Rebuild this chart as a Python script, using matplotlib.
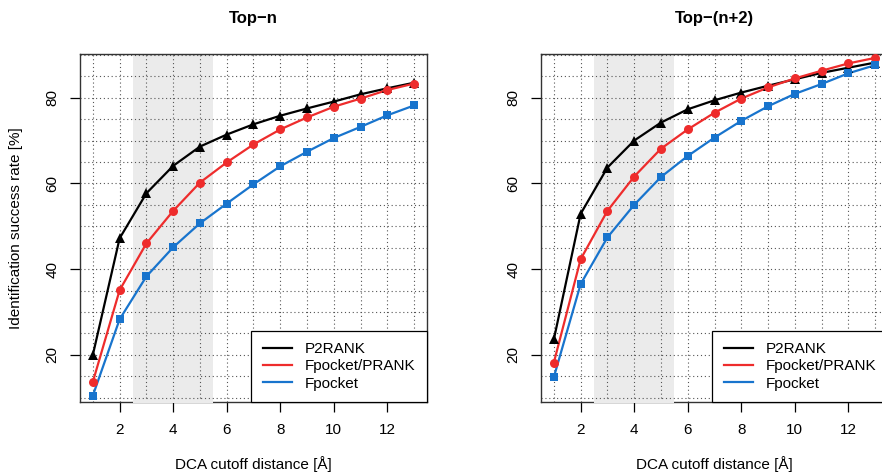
import matplotlib
matplotlib.use("Agg")
import matplotlib.pyplot as plt

plt.rcParams["font.family"] = ["Liberation Sans", "DejaVu Sans"]

cutoff = list(range(1, 14))

# Top-n panel
topn_p2rank = [20.0, 47.2, 57.7, 64.1, 68.6, 71.4, 73.8, 75.8, 77.5, 79.1, 80.8, 82.2, 83.5]
topn_fpprank = [13.7, 35.1, 46.0, 53.6, 60.2, 64.9, 69.1, 72.6, 75.4, 77.9, 79.8, 81.8, 83.3]
topn_fpocket = [10.5, 28.3, 38.3, 45.1, 50.7, 55.3, 59.8, 64.0, 67.4, 70.6, 73.2, 75.9, 78.2]

# Top-(n+2) panel
topn2_p2rank = [23.6, 52.9, 63.7, 70.0, 74.2, 77.3, 79.4, 81.2, 82.8, 84.3, 85.8, 87.0, 88.2]
topn2_fpprank = [18.2, 42.3, 53.6, 61.6, 68.1, 72.6, 76.5, 79.8, 82.4, 84.5, 86.3, 88.0, 89.3]
topn2_fpocket = [14.8, 36.5, 47.4, 55.0, 61.5, 66.4, 70.7, 74.6, 78.0, 80.9, 83.2, 85.7, 87.6]

series_names = ["P2RANK", "Fpocket/PRANK", "Fpocket"]
series_colors = ["black", "#EE2C2C", "#1874CD"]
series_markers = ["^", "o", "s"]
panel_titles = ["Top\u2212n", "Top\u2212(n+2)"]
band = (2.5, 5.5)

fig = plt.figure(figsize=(8.82, 4.75), dpi=100)
w = 347 / 882
h = 348 / 475
bottom = 1 - 402 / 475
ax1 = fig.add_axes([80 / 882, bottom, w, h])
ax2 = fig.add_axes([541 / 882, bottom, w, h])

panels = [
    (ax1, [topn_p2rank, topn_fpprank, topn_fpocket]),
    (ax2, [topn2_p2rank, topn2_fpprank, topn2_fpocket]),
]

for i, (ax, data) in enumerate(panels):
    ax.set_xlim(0.52, 13.48)
    ax.set_ylim(9.0, 90.2)
    ax.axvspan(*band, color="#EBEBEB", lw=0, zorder=0)
    # cover bottom box line under the band like the original
    ax.axvspan(*band, ymin=-0.004, ymax=0.004, color="#EBEBEB", lw=0, zorder=3, clip_on=False)
    for gx in cutoff:
        ax.axvline(gx, color="#555555", ls=(0, (1, 2.5)), lw=0.8, zorder=1)
    for gy in range(10, 91, 5):
        ax.axhline(gy, color="#555555", ls=(0, (1, 2.5)), lw=0.8, zorder=1)

    handles = []
    for vals, name, col, mk in zip(data, series_names, series_colors, series_markers):
        ms = {"^": 7.5, "o": 6.5, "s": 6}[mk]
        ln, = ax.plot(cutoff, vals, color=col, lw=1.6, zorder=4, label=name)
        ax.plot(cutoff, vals, ls="none", marker=mk, ms=ms, color=col,
                markeredgewidth=0, zorder=5, clip_on=False)
        handles.append(ln)

    ax.set_xticks(range(2, 13, 2))
    ax.set_yticks([20, 40, 60, 80])
    ax.tick_params(axis="both", direction="out", length=7, width=0.9, labelsize=11, pad=8)
    for lab in ax.get_yticklabels():
        lab.set_rotation(90)
        lab.set_va("center")
    for sp in ax.spines.values():
        sp.set_color("#333333")
        sp.set_linewidth(1.0)

    leg = ax.legend(handles=handles, loc="lower right", bbox_to_anchor=(1.0, 0.0),
                    borderaxespad=0, fontsize=11, frameon=True, fancybox=False,
                    framealpha=1, edgecolor="black", handlelength=1.9,
                    handletextpad=0.85, labelspacing=0.2, borderpad=0.75)
    leg.get_frame().set_linewidth(0.9)
    leg.set_zorder(6)

    ax.set_title(panel_titles[i], fontsize=12, fontweight="bold", pad=22)
    ax.set_xlabel("DCA cutoff distance [\u00c5]", fontsize=11, labelpad=14)

ax1.set_ylabel("Identification success rate [%]", fontsize=11, labelpad=16)

fig.savefig("out.png", dpi=100)
